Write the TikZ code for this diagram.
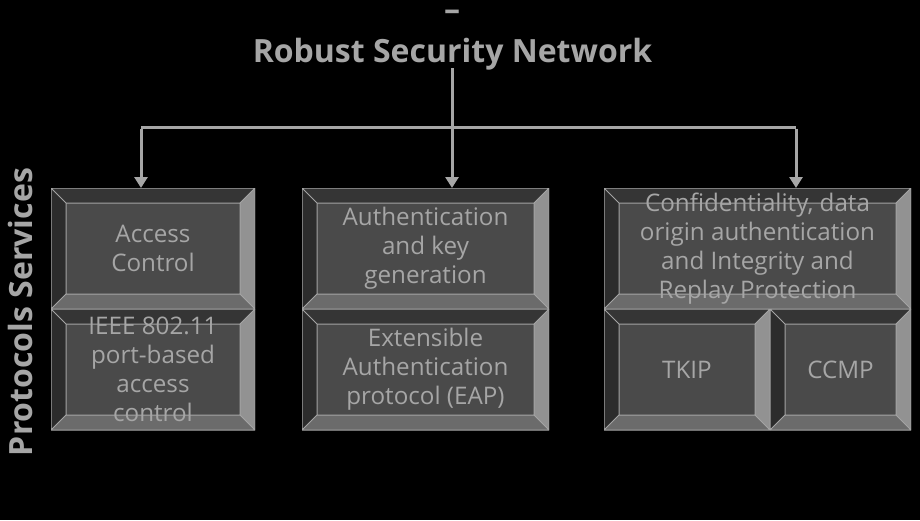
\documentclass[tikz,border=0pt]{standalone}
\usepackage{fontspec}
\setmainfont{Open Sans}
\usetikzlibrary{arrows.meta}
\definecolor{edge}{HTML}{A4A4A4}
\definecolor{face}{HTML}{4A4A4A}
\definecolor{bandT}{HTML}{353535}
\definecolor{bandL}{HTML}{2C2C2C}
\definecolor{bandR}{HTML}{929292}
\definecolor{bandB}{HTML}{6B6B6B}
\definecolor{txt}{HTML}{A6A6A6}
\definecolor{line}{HTML}{A6A6A6}
\tikzset{
  bevelbox/.style={fill=face, inner sep=0pt, outer sep=0pt, align=center,
    text=txt, font=\fontsize{24.2}{29}\selectfont,
    path picture={
      \path (path picture bounding box.south west) coordinate (@sw)
            (path picture bounding box.north east) coordinate (@ne);
      \path (@sw |- @ne) coordinate (@nw) (@ne |- @sw) coordinate (@se);
      \path ([shift={(15pt,-15pt)}]@nw) coordinate (@inw)
            ([shift={(-15pt,-15pt)}]@ne) coordinate (@ine)
            ([shift={(15pt,15pt)}]@sw) coordinate (@isw)
            ([shift={(-15pt,15pt)}]@se) coordinate (@ise);
      \fill[bandT] (@nw) -- (@ne) -- (@ine) -- (@inw) -- cycle;
      \fill[bandL] (@nw) -- (@inw) -- (@isw) -- (@sw) -- cycle;
      \fill[bandR] (@ne) -- (@se) -- (@ise) -- (@ine) -- cycle;
      \fill[bandB] (@sw) -- (@isw) -- (@ise) -- (@se) -- cycle;
      \draw[edge, line width=1pt] (@inw) rectangle (@ise)
        (@nw) -- (@inw) (@ne) -- (@ine) (@sw) -- (@isw) (@se) -- (@ise)
        (@nw) rectangle (@se);
    }},
  conn/.style={draw=line, line width=3pt},
  arr/.style={conn, -{Triangle[width=13pt,length=11pt]}},
  heading/.style={text=txt, font=\fontsize{32}{38}\selectfont\bfseries, inner sep=0pt}
}
\begin{document}
\begin{tikzpicture}[x=1pt,y=-1pt]
\fill[black] (0,0) rectangle (920,520);
\useasboundingbox (0,0) rectangle (920,520);

\node[heading] (dash) at (452,15) {–};
\node[heading] (title) at (452.5,54) {Robust Security Network};

\node[bevelbox, minimum width=204pt, minimum height=121pt] (b1t) at (153,248.5) {Access\\Control};
\node[bevelbox, minimum width=204pt, minimum height=121pt] (b1b) at (153,369.5) {IEEE 802.11\\port-based\\access\\control};

\node[bevelbox, minimum width=247pt, minimum height=121pt] (b2t) at (425.5,248.5) {Authentication\\and key\\generation};
\node[bevelbox, minimum width=247pt, minimum height=121pt] (b2b) at (425.5,369.5) {Extensible\\Authentication\\protocol (EAP)};

\node[bevelbox, minimum width=307pt, minimum height=121pt] (b3t) at (757.5,248.5) {Confidentiality, data\\origin authentication\\and Integrity and\\Replay Protection};
\node[bevelbox, minimum width=166pt, minimum height=121pt] (b3l) at (687,369.5) {TKIP};
\node[bevelbox, minimum width=141pt, minimum height=121pt] (b3r) at (840.5,369.5) {CCMP};

\node[heading, rotate=90] (side) at (20,312) {Protocols Services};

\coordinate (top) at (452,68);
\coordinate (hl) at (141,127);
\coordinate (hr) at (796,127);
\draw[conn] (hl) -- (hr);
\draw[arr] (top) -- (top |- b2t.north);
\draw[arr] ([yshift=-1.5pt]hl) -- (hl |- b1t.north);
\draw[arr] ([yshift=-1.5pt]hr) -- (hr |- b3t.north);
\end{tikzpicture}
\end{document}
